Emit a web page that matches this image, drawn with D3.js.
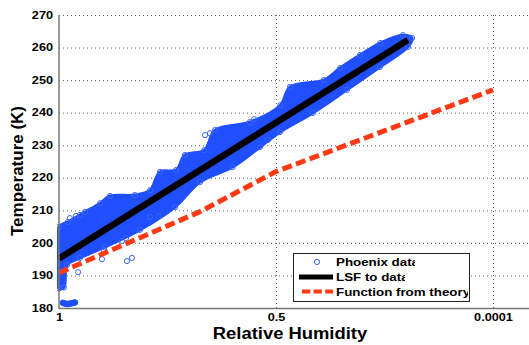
<!DOCTYPE html>
<html>
<head>
<meta charset="utf-8" />
<title>Temperature vs Relative Humidity</title>
<script src="https://d3js.org/d3.v7.min.js"></script>
<style>
body { margin: 0; background: #fff; }
svg { display: block; font-family: "Liberation Sans", Arial, sans-serif; font-weight: bold; }
</style>
</head>
<body>
<svg id="chart"></svg>
<script>
// x positions are in tick units: 0 -> "1", 1 -> "0.5", 2 -> "0.0001"
var xTickPos = [0, 1, 2];
var xTickLabels = ["1", "0.5", "0.0001"];
var yTicks = [180, 190, 200, 210, 220, 230, 240, 250, 260, 270];

// outline of the dense Phoenix point cloud (top edge, then bottom edge)
var cloudTopX = [0, 0.04, 0.12, 0.19, 0.235, 0.35, 0.42, 0.465, 0.54, 0.58, 0.67, 0.72, 0.88, 1.02, 1.065, 1.22, 1.295, 1.387, 1.48, 1.585, 1.627];
var cloudTopT = [204.9, 206.4, 209.5, 212.2, 214.4, 214.7, 216.2, 221.8, 222.4, 227, 228.5, 234.7, 237.1, 242.3, 247.9, 250, 253.7, 257.7, 261.4, 263.8, 262.9];
var cloudBottomX = [0, 0.023, 0.037, 0.097, 0.21, 0.373, 0.535, 0.65, 0.8, 0.926, 1.018, 1.17, 1.327, 1.479, 1.608];
var cloudBottomT = [186, 186.3, 193.2, 195.4, 198.7, 204, 211, 218.7, 223.3, 229.4, 234, 239.9, 247, 254, 260.2];

// single points sitting apart from the cloud
var strayX = [0.088, 0.05, 0.078, 0.097, 0.198, 0.207, 0.29, 0.309, 0.313, 0.336, 0.419, 0.461, 0.673, 0.696, 0.899, 0.963];
var strayT = [191.0, 207.6, 208.3, 208.6, 195.0, 197.8, 200.6, 201.5, 194.4, 195.4, 207.9, 208.2, 233.1, 233.7, 238.0, 231.6];

// small packed group of points near the bottom left
var clumpX = [0.018, 0.025, 0.032, 0.04, 0.047, 0.054, 0.061, 0.068, 0.074];
var clumpT = [181.6, 181.4, 181.3, 181.2, 181.3, 181.4, 181.5, 181.6, 181.7];

// least squares fit
var lsfX = [0, 1.608];
var lsfT = [195.2, 262.3];

// function from theory
var theoryX = [0, 0.65, 1, 2];
var theoryT = [190.8, 209.6, 221.9, 247];

var legendLabels = ["Phoenix data", "LSF to data", "Function from theory"];

var width = 529, height = 345;
var m = { left: 59, right: 529, top: 15, bottom: 308 };
var blue = "#1f4fff", red = "#ff3a14";

var svg = d3.select("#chart").attr("width", width).attr("height", height);
var defs = svg.append("defs");

var x = d3.scaleLinear().domain([0, 2]).range([m.left, 493]);
var y = d3.scaleLinear().domain([180, 270]).range([m.bottom, m.top]);

function stretch(sel, k) {
    sel.each(function() {
        var w = this.getComputedTextLength();
        d3.select(this).attr("textLength", w * k).attr("lengthAdjust", "spacingAndGlyphs");
    });
}

defs.append("clipPath").attr("id", "plotclip")
    .append("rect").attr("x", m.left - 2).attr("y", 0).attr("width", m.right - m.left + 2).attr("height", m.bottom);

// grid
var grid = svg.append("g").attr("stroke", "#666").attr("stroke-width", 1).attr("stroke-dasharray", "1,3");
grid.selectAll(".hg").data(yTicks.slice(1)).enter().append("line")
    .attr("x1", m.left).attr("x2", m.right)
    .attr("y1", function(d) { return y(d) + 0.5; }).attr("y2", function(d) { return y(d) + 0.5; });
grid.selectAll(".vg").data(xTickPos.slice(1)).enter().append("line")
    .attr("y1", m.top).attr("y2", m.bottom)
    .attr("x1", function(d) { return x(d) + 0.5; }).attr("x2", function(d) { return x(d) + 0.5; });

// Phoenix data cloud
var cloud = [];
cloudTopX.forEach(function(d, i) { cloud.push([d, cloudTopT[i]]); });
for (var i = cloudBottomX.length - 1; i >= 0; i--) cloud.push([cloudBottomX[i], cloudBottomT[i]]);

var line = d3.line()
    .x(function(d) { return x(d[0]); })
    .y(function(d) { return y(d[1]); });

var plot = svg.append("g").attr("clip-path", "url(#plotclip)");

plot.append("path")
    .attr("d", line.curve(d3.curveCatmullRomClosed.alpha(0.5))(cloud))
    .attr("fill", blue)
    .attr("stroke", blue)
    .attr("stroke-width", 3)
    .attr("stroke-linejoin", "round");

var pts = cloud.concat(strayX.map(function(d, i) { return [d, strayT[i]]; }));
plot.selectAll(".pt").data(pts).enter().append("circle")
    .attr("cx", function(d) { return x(d[0]); })
    .attr("cy", function(d) { return y(d[1]); })
    .attr("r", 2.6)
    .attr("fill", "none")
    .attr("stroke", "#3a66ff")
    .attr("stroke-width", 1);
plot.selectAll(".clump").data(clumpX).enter().append("circle")
    .attr("cx", function(d) { return x(d); })
    .attr("cy", function(d, i) { return y(clumpT[i]); })
    .attr("r", 2.8)
    .attr("fill", blue)
    .attr("stroke", blue)
    .attr("stroke-width", 1);

line.curve(d3.curveLinear);

// LSF line
svg.append("path")
    .attr("d", line(lsfX.map(function(d, i) { return [d, lsfT[i]]; })))
    .attr("fill", "none")
    .attr("stroke", "#000")
    .attr("stroke-width", 6.5);

// theory line
svg.append("path")
    .attr("d", line(theoryX.map(function(d, i) { return [d, theoryT[i]]; })))
    .attr("fill", "none")
    .attr("stroke", red)
    .attr("stroke-width", 5)
    .attr("stroke-dasharray", "10,4.5");

// axes
var axes = svg.append("g").attr("stroke", "#777").attr("stroke-width", 1.5);
axes.append("line").attr("x1", m.left).attr("x2", m.left).attr("y1", m.top).attr("y2", m.bottom + 1);
axes.append("line").attr("x1", m.left).attr("x2", m.right).attr("y1", m.bottom + 0.5).attr("y2", m.bottom + 0.5);

var yAxis = svg.append("g")
    .attr("transform", "translate(" + m.left + ",0)")
    .call(d3.axisLeft(y).tickValues(yTicks).tickSize(0).tickPadding(6));
yAxis.select(".domain").remove();
yAxis.attr("font-family", null).attr("font-size", 10);
yAxis.selectAll("text").attr("fill", "#000");
stretch(yAxis.selectAll("text"), 1.27);

var xAxis = svg.append("g")
    .attr("transform", "translate(0," + m.bottom + ")")
    .call(d3.axisBottom(x).tickValues(xTickPos).tickSize(0).tickPadding(6)
        .tickFormat(function(d, i) { return xTickLabels[i]; }));
xAxis.select(".domain").remove();
xAxis.attr("font-family", null).attr("font-size", 10);
xAxis.selectAll("text").attr("fill", "#000");
stretch(xAxis.selectAll("text"), 1.27);

// axis titles
var xt = svg.append("text")
    .attr("x", 290).attr("y", 339)
    .attr("text-anchor", "middle")
    .attr("font-size", 16)
    .text("Relative Humidity");
stretch(xt, 1.15);

svg.append("text")
    .attr("transform", "translate(23,171) rotate(-90)")
    .attr("text-anchor", "middle")
    .attr("font-size", 17)
    .text("Temperature (K)");

// legend (labels get cut by the box, as in the original)
var clipW = [79, 69, 132];
var lg = svg.append("g");
clipW.forEach(function(w, i) {
    defs.append("clipPath").attr("id", "legclip" + i)
        .append("rect").attr("x", 336).attr("y", 255 + i * 14.9).attr("width", w).attr("height", 15);
});
lg.append("rect")
    .attr("x", 293.5).attr("y", 253.5).attr("width", 176).attr("height", 48)
    .attr("fill", "#fff").attr("stroke", "#222").attr("stroke-width", 1);
lg.append("circle").attr("cx", 317).attr("cy", 262).attr("r", 2.6)
    .attr("fill", "none").attr("stroke", "#3a66ff").attr("stroke-width", 1);
lg.append("line").attr("x1", 299).attr("x2", 333).attr("y1", 277).attr("y2", 277)
    .attr("stroke", "#000").attr("stroke-width", 5);
lg.append("line").attr("x1", 302).attr("x2", 333).attr("y1", 291.5).attr("y2", 291.5)
    .attr("stroke", red).attr("stroke-width", 4).attr("stroke-dasharray", "8.3,3.3");
var lt = lg.selectAll(".lt").data(legendLabels).enter().append("text")
    .attr("class", "lt")
    .attr("clip-path", function(d, i) { return "url(#legclip" + i + ")"; })
    .attr("x", 336)
    .attr("y", function(d, i) { return 266 + i * 14.9; })
    .attr("font-size", 10.5)
    .text(function(d) { return d; });
stretch(lt, 1.27);
</script>
</body>
</html>
